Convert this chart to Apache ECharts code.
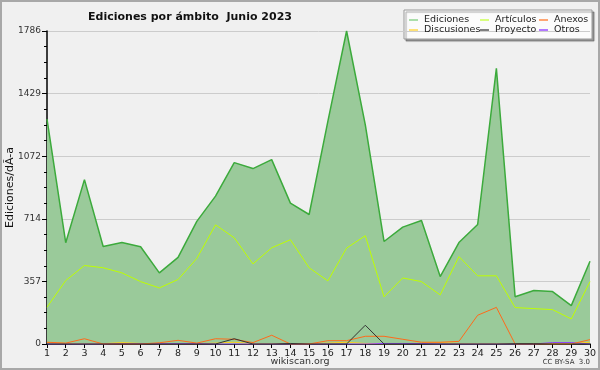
<!DOCTYPE html>
<html><head><meta charset="utf-8">
<script src="https://cdn.jsdelivr.net/npm/echarts@6/dist/echarts.min.js"></script>
<style>html,body{margin:0;padding:0;background:#f0f0f0}#c{width:600px;height:370px}</style>
</head><body><div id="c"></div>
<script>
const days = ["1","2","3","4","5","6","7","8","9","10","11","12","13","14","15","16","17","18","19","20","21","22","23","24","25","26","27","28","29","30"];
const ediciones = [1283,578,938,556,579,555,406,494,700,844,1035,1001,1052,804,739,1270,1786,1250,585,667,705,385,579,682,1573,270,305,299,219,472];
const articulos = [210,362,448,435,406,356,320,368,488,680,606,457,549,595,435,360,547,618,269,377,356,280,499,389,389,208,202,196,143,356];
const anexos = [10,5,30,0,0,0,7,21,5,30,27,8,50,0,0,19,19,44,44,27,10,10,15,164,209,0,0,0,0,25];
const discusiones = [8,3,2,2,8,3,2,2,2,5,10,2,2,2,2,5,10,3,2,2,5,8,3,2,2,2,3,2,2,10];
const proyecto = [0,0,0,0,0,0,0,0,0,0,30,0,0,3,0,0,0,107,0,0,0,0,0,0,0,2,2,0,0,0];
const otros = [0,0,0,0,2,2,2,2,2,0,0,0,0,0,0,0,0,0,3,3,3,0,0,0,0,0,0,8,8,0];
const yTicks = [0,357,714,1072,1429,1786];

const colors = {
  'Ediciones':'#3caa3c','Artículos':'#bfff00','Anexos':'#ff6a1a',
  'Discusiones':'#ffd21a','Proyecto':'#333333','Otros':'#8a3cff'
};
const legendColors = {
  'Ediciones':'#8fd48f','Artículos':'#ccff55','Anexos':'#ff8844',
  'Discusiones':'#ffd84a','Proyecto':'#555555','Otros':'#9a4cff'
};
function line(name, data, extra){
  return Object.assign({
    name, type:'line', data, symbol:'none', smooth:false,
    lineStyle:{color:colors[name], width:1}, itemStyle:{color:legendColors[name]},
    animation:false
  }, extra||{});
}
const chart = echarts.init(document.getElementById('c'), null, {renderer:'canvas'});
const legendBase = {
  orient:'vertical', top:15, itemGap:0, itemWidth:9, itemHeight:1.5, icon:'rect',
  textStyle:{fontSize:9.5, color:'#222', fontFamily:'DejaVu Sans', lineHeight:10, padding:[0,0,0,1]},
  selectedMode:false, padding:0
};
chart.setOption({
  backgroundColor:'#f0f0f0',
  animation:false,
  title:{text:'Ediciones por ámbito  Junio 2023', left:185, textAlign:'center', top:7,
    textStyle:{fontSize:11, fontWeight:'bold', color:'#111', fontFamily:'DejaVu Sans'}},
  graphic:[
    {type:'rect', shape:{x:1,y:1,width:598,height:368}, style:{fill:'none', stroke:'#a8a8a8', lineWidth:2}, z:-1},
    {type:'rect', shape:{x:404,y:10,width:188,height:29}, style:{fill:'#fbfbfb', stroke:'#999', lineWidth:1,
      shadowColor:'rgba(0,0,0,0.35)', shadowOffsetX:2, shadowOffsetY:2, shadowBlur:1}, z:-1},
    {type:'text', left:'center', top:357, style:{text:'wikiscan.org', fontSize:9.5, fill:'#333', fontFamily:'DejaVu Sans'}},
    {type:'text', right:10, top:359, style:{text:'CC BY-SA  3.0', fontSize:7, fill:'#333', fontFamily:'DejaVu Sans'}}
  ],
  legend:[
    Object.assign({}, legendBase, {left:409, data:['Ediciones','Discusiones']}),
    Object.assign({}, legendBase, {left:480, data:['Artículos','Proyecto']}),
    Object.assign({}, legendBase, {left:539, data:['Anexos','Otros']})
  ],
  grid:{left:47, right:10, top:31, bottom:26, containLabel:false, outerBoundsMode:'none'},
  xAxis:{
    type:'category', data:days, boundaryGap:false,
    axisLine:{lineStyle:{color:'#000', width:1.5}},
    axisTick:{show:true, length:4, lineStyle:{color:'#000'}, alignWithLabel:true},
    axisLabel:{fontSize:9.5, color:'#222', margin:5, interval:0, fontFamily:'DejaVu Sans'},
    splitLine:{show:false}
  },
  yAxis:{
    type:'value', min:0, max:1786, interval:357.2,
    name:'Ediciones/dÃ-a', nameLocation:'middle', nameGap:31, nameRotate:90, nameMoveOverlap:false,
    nameTextStyle:{fontSize:11, color:'#111', fontFamily:'DejaVu Sans'},
    axisLine:{show:true, lineStyle:{color:'#000', width:1.5}},
    axisTick:{show:true, length:5, lineStyle:{color:'#000'}},
    minorTick:{show:true, splitNumber:4, length:3, lineStyle:{color:'#000'}},
    axisLabel:{fontSize:9, color:'#333', margin:6, fontFamily:'DejaVu Sans',
      formatter:v=>{let best=yTicks[0];for(const t of yTicks){if(Math.abs(t-v)<Math.abs(best-v))best=t;}return String(best);}},
    splitLine:{show:true, lineStyle:{color:'#cccccc', width:1}}
  },
  series:[
    line('Ediciones', ediciones, {lineStyle:{color:'#3caa3c', width:1.5}, areaStyle:{color:'#9aca9a', opacity:1}, z:1}),
    line('Artículos', articulos, {z:3}),
    line('Anexos', anexos, {z:4}),
    line('Discusiones', discusiones, {z:3}),
    line('Proyecto', proyecto, {z:5}),
    line('Otros', otros, {z:3})
  ]
});
</script></body></html>
